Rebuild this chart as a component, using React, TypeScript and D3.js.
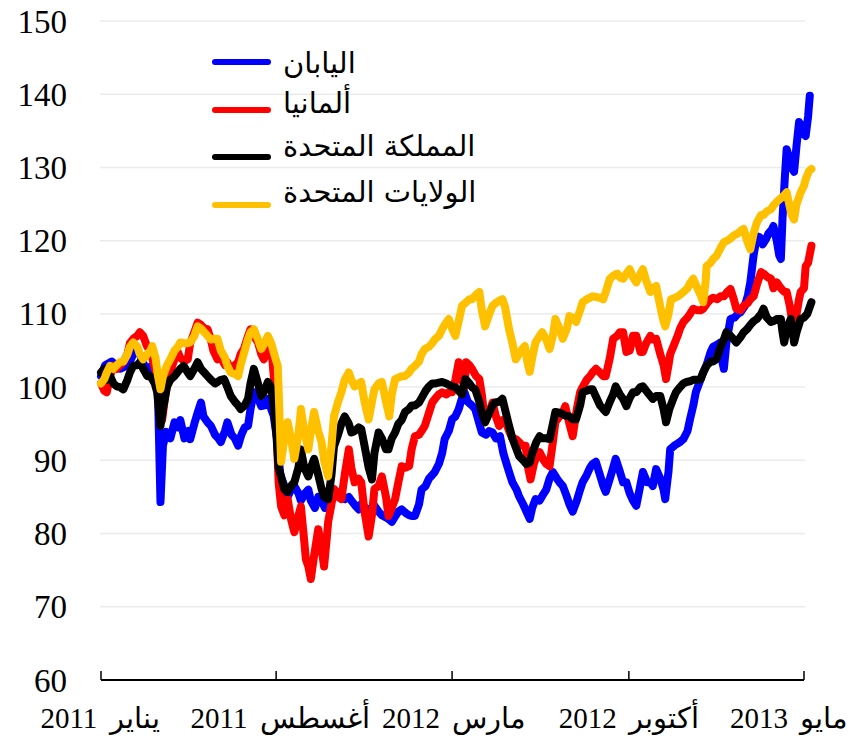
import React from "react";
import * as d3 from "d3";

type Pt = [number, number]; // [months since 1 Jan 2011, index value]

const japan: Pt[] = [
[0,101.5],[0.16,103],[0.44,103.5],[0.76,102.5],[1.08,103],[1.36,105],[1.56,104.5],[1.76,102.5],[1.96,102.8],[2.16,101],[2.28,99],[2.36,84.3],[2.48,92],[2.6,93.9],[2.76,93],[2.92,95.2],[3.04,94.5],[3.16,95.5],[3.32,93],[3.48,94],[3.56,92.9],[3.72,95],[3.84,96.5],[3.96,97.9],[4.08,96],[4.24,95.2],[4.36,94.7],[4.52,93.5],[4.68,93],[4.76,92.5],[4.92,94],[5.04,95.2],[5.2,93.5],[5.32,93],[5.44,92],[5.6,93.5],[5.72,94.5],[5.84,94.7],[5.96,97],[6.08,99.3],[6.24,98.5],[6.36,97.4],[6.52,97.5],[6.64,98.4],[6.76,97],[6.88,96.1],[7.0,93],[7.12,88],[7.28,86.5],[7.44,85],[7.56,86],[7.68,86.5],[7.84,85.5],[7.96,84.5],[8.12,85.5],[8.24,86],[8.36,84.5],[8.52,83.5],[8.64,85],[8.76,84.5],[8.92,83.5],[9.04,84],[9.16,85],[9.28,86],[9.44,85.5],[9.56,85],[9.68,84.7],[9.84,85],[9.96,84.5],[10.12,83.8],[10.24,83.3],[10.36,84],[10.52,83.5],[10.64,83.2],[10.76,83.5],[10.88,83.8],[11.04,83],[11.16,82.5],[11.32,82.2],[11.44,82],[11.56,81.6],[11.72,82.5],[11.84,83],[11.96,83.3],[12.12,82.8],[12.24,82.5],[12.36,82.4],[12.48,82.4],[12.64,84],[12.76,86],[12.92,86.5],[13.04,87.5],[13.16,88],[13.28,88.4],[13.44,89.5],[13.56,91],[13.68,92.9],[13.84,94],[13.96,95.6],[14.08,96],[14.24,97],[14.36,98.5],[14.44,99.3],[14.6,98],[14.76,97.5],[14.88,97],[15.04,95],[15.16,93.8],[15.32,93.5],[15.44,94],[15.56,93.8],[15.72,93],[15.88,93.3],[16.0,91],[16.12,89.5],[16.24,88.4],[16.36,87],[16.52,86],[16.64,85.1],[16.8,84],[16.92,83],[17.04,82],[17.16,83.5],[17.28,84.7],[17.44,84.5],[17.56,85.1],[17.72,86],[17.84,87.5],[17.96,88.4],[18.12,87.5],[18.24,87],[18.36,86.5],[18.52,85],[18.64,84],[18.76,83],[18.92,84.5],[19.04,86],[19.16,87],[19.32,88],[19.44,89],[19.56,89.5],[19.68,89.8],[19.84,88],[19.96,86.5],[20.08,85.7],[20.24,87.5],[20.36,89],[20.48,90.2],[20.64,88.5],[20.76,87],[20.88,87],[21.04,85.5],[21.16,84.5],[21.28,83.8],[21.4,85.5],[21.56,88.4],[21.72,87],[21.84,87],[21.96,86.5],[22.08,88.8],[22.24,87.5],[22.36,86],[22.44,84.7],[22.56,88.5],[22.64,91.5],[22.8,92],[22.92,92.3],[23.04,92.5],[23.16,92.9],[23.32,94],[23.44,95.6],[23.56,97.5],[23.64,99.3],[23.8,100.5],[23.96,102],[24.08,103],[24.24,104.8],[24.36,105.5],[24.52,105.8],[24.64,106.1],[24.72,103.5],[24.76,102.5],[24.88,106],[25.04,109.3],[25.2,109.5],[25.32,110],[25.44,110.2],[25.6,111],[25.72,112.5],[25.84,114.3],[25.96,118],[26.08,120.6],[26.2,120.5],[26.32,119.5],[26.44,120.2],[26.56,121],[26.68,121.5],[26.76,122],[26.88,120],[26.96,118],[27.04,117.5],[27.12,123],[27.2,129],[27.28,132.5],[27.4,131],[27.48,130],[27.56,129.4],[27.68,133],[27.76,136.2],[27.88,135.5],[27.96,134.5],[28.04,134.3],[28.12,137],[28.2,139.8]
];

const germany: Pt[] = [
[0,100.5],[0.12,99.5],[0.24,99.3],[0.36,101.5],[0.48,102.9],[0.64,102.5],[0.76,103],[0.88,103.4],[1.04,104.5],[1.16,106],[1.28,106.6],[1.44,107],[1.56,107.5],[1.68,107],[1.84,105.5],[1.96,105.2],[2.08,103.5],[2.24,101.5],[2.36,97.5],[2.44,95.5],[2.56,99],[2.68,101.5],[2.8,102.5],[2.92,103.8],[3.04,104.8],[3.16,104],[3.32,103.5],[3.44,103.8],[3.56,106],[3.72,107.5],[3.84,108.8],[3.96,108.5],[4.12,108],[4.24,107.9],[4.36,106.5],[4.48,105],[4.64,103.8],[4.76,104],[4.92,103],[5.04,103.4],[5.16,102.5],[5.32,103],[5.44,103.4],[5.56,104.5],[5.68,105.2],[5.84,107],[5.96,107.9],[6.08,107],[6.24,106.1],[6.36,104.5],[6.48,103.8],[6.64,105],[6.76,105.6],[6.84,103],[6.92,99],[7.0,93],[7.08,87],[7.16,83.7],[7.28,82.5],[7.44,84.7],[7.56,82],[7.68,80.2],[7.84,82.5],[7.96,83.7],[8.08,79],[8.16,76.5],[8.24,75.5],[8.36,73.8],[8.48,77],[8.64,80.6],[8.76,78],[8.88,75.5],[8.96,79],[9.04,81.6],[9.16,84],[9.28,86.1],[9.44,85],[9.56,84.7],[9.68,88],[9.84,91.5],[9.96,89],[10.08,87],[10.24,87.5],[10.36,87],[10.48,83],[10.64,79.6],[10.76,82.5],[10.88,86.1],[11.04,86.5],[11.16,87.8],[11.32,85],[11.44,82.4],[11.56,83.5],[11.68,84.7],[11.84,87],[11.96,89.2],[12.12,89],[12.24,89.2],[12.36,91.5],[12.48,93.3],[12.64,93.5],[12.76,94],[12.88,94.7],[13.04,96.5],[13.16,97.9],[13.32,98.5],[13.44,99],[13.56,99.3],[13.72,99],[13.84,99.3],[13.96,99.3],[14.08,101],[14.24,103.4],[14.36,101],[14.44,100],[14.52,103.4],[14.64,103],[14.76,102.5],[14.92,101.5],[15.04,101.1],[15.16,99],[15.28,95.2],[15.44,96.5],[15.56,97.9],[15.72,96],[15.84,94.7],[15.96,95.5],[16.08,95.6],[16.24,94],[16.36,93],[16.48,92.9],[16.64,92.5],[16.76,92],[16.88,92],[17.0,89],[17.08,87.4],[17.2,89.5],[17.32,90.5],[17.44,91.1],[17.6,90],[17.72,89.5],[17.84,89.2],[17.96,92.5],[18.08,95.2],[18.24,96],[18.36,96.5],[18.48,97.4],[18.64,95],[18.76,93.3],[18.92,97],[19.04,99.3],[19.16,100],[19.32,101],[19.44,101.5],[19.56,102],[19.68,102.5],[19.84,102],[19.96,101.5],[20.08,101.5],[20.24,104],[20.36,106.6],[20.52,107],[20.64,107.5],[20.76,107.5],[20.88,104.8],[21.04,105],[21.16,107],[21.28,107],[21.44,104.8],[21.56,104.8],[21.68,106],[21.84,107],[21.96,106.5],[22.08,106.6],[22.24,104.5],[22.36,103],[22.48,101.1],[22.56,103],[22.64,104.5],[22.76,105.6],[22.92,107],[23.04,108],[23.16,108.9],[23.32,109.5],[23.44,110],[23.56,110.7],[23.72,110.5],[23.84,110.5],[23.96,110.7],[24.12,111.5],[24.24,112],[24.36,112.2],[24.52,112],[24.64,112.4],[24.76,112.4],[24.92,113],[25.04,113.4],[25.16,112],[25.28,110.7],[25.44,110.5],[25.56,111.1],[25.72,111.5],[25.84,112],[25.96,112.4],[26.08,114],[26.24,115.7],[26.36,115.5],[26.52,115],[26.64,114.8],[26.76,113.5],[26.88,114.3],[27.04,113.5],[27.16,113],[27.28,113],[27.4,111],[27.48,109.5],[27.56,108.3],[27.68,110],[27.76,112],[27.84,113],[27.96,113.5],[28.04,116.5],[28.12,117],[28.24,119.3]
];

const uk: Pt[] = [
[0,102],[0.12,102.5],[0.24,101],[0.36,101.5],[0.48,100.5],[0.64,100.1],[0.76,100],[0.88,99.7],[1.04,101],[1.16,102],[1.28,102.9],[1.44,103],[1.56,103.4],[1.68,102.5],[1.84,101.5],[1.96,101.5],[2.12,100.5],[2.24,99.3],[2.36,94.7],[2.48,97],[2.64,100.1],[2.76,101],[2.92,101.5],[3.04,102.1],[3.16,102.5],[3.28,102.9],[3.44,102],[3.56,101.5],[3.72,102.5],[3.84,103.4],[3.96,102.5],[4.12,102],[4.24,101.5],[4.36,101],[4.52,100.5],[4.64,100.7],[4.76,101],[4.88,101.1],[5.04,100],[5.16,98.8],[5.32,98],[5.44,97.5],[5.56,97],[5.72,97.5],[5.84,98.4],[5.96,100.5],[6.08,102.5],[6.24,100.5],[6.36,98.8],[6.52,99.5],[6.64,100.7],[6.76,100],[6.84,98.4],[6.96,94],[7.08,89],[7.16,87.8],[7.28,86],[7.44,85.7],[7.56,86.5],[7.68,87],[7.84,89],[7.96,91.5],[8.08,89],[8.24,87.8],[8.36,89],[8.48,90.2],[8.64,88],[8.76,86.1],[8.88,85],[9.04,84.7],[9.16,88],[9.28,91.9],[9.44,93.5],[9.56,95],[9.68,96],[9.84,95],[9.96,93.8],[10.08,94],[10.24,94.5],[10.36,94.3],[10.48,92],[10.64,89],[10.76,87.4],[10.88,91],[11.04,93.8],[11.16,93],[11.32,91.5],[11.44,91.5],[11.56,93],[11.68,93.8],[11.84,95],[11.96,95.5],[12.08,96.6],[12.24,97],[12.36,97.5],[12.48,97.5],[12.64,97.9],[12.76,98.5],[12.92,99.5],[13.04,100.1],[13.16,100.5],[13.32,100.5],[13.44,100.6],[13.56,100.7],[13.72,100.5],[13.84,100.3],[13.96,100.1],[14.08,100],[14.24,99.5],[14.36,99],[14.48,101.1],[14.64,100.5],[14.76,100],[14.88,99.7],[15.04,98],[15.16,96.5],[15.28,95.2],[15.44,96.5],[15.56,97.5],[15.68,97.9],[15.84,98],[15.96,98.4],[16.08,97],[16.24,94.7],[16.36,93],[16.52,91.5],[16.64,90.6],[16.8,90],[16.92,89.5],[17.04,89.7],[17.16,91],[17.32,92.5],[17.44,93.3],[17.56,93],[17.72,93],[17.84,92.9],[17.96,95],[18.08,96.6],[18.24,96.5],[18.36,96.3],[18.48,96.1],[18.64,96],[18.76,95.6],[18.88,95.6],[19.04,97.5],[19.16,99.3],[19.32,99.5],[19.44,99.7],[19.56,99.7],[19.72,98.5],[19.84,97.5],[19.96,97],[20.08,96.6],[20.24,98],[20.36,99],[20.48,100.1],[20.64,99],[20.76,98.4],[20.88,97.4],[21.04,98.5],[21.16,99.3],[21.28,99.3],[21.44,100],[21.56,100.1],[21.68,99.5],[21.84,98.8],[21.96,98.4],[22.08,98.8],[22.24,98.8],[22.36,97],[22.48,95.2],[22.6,97],[22.76,98.5],[22.88,99.3],[23.04,100],[23.16,100.5],[23.28,100.7],[23.44,100.8],[23.56,101],[23.72,101],[23.84,101.1],[23.96,102],[24.08,102.9],[24.24,103.5],[24.36,103.5],[24.48,103.8],[24.64,105.5],[24.76,106.5],[24.88,107.5],[25.04,107],[25.16,106.5],[25.28,106.1],[25.44,106.8],[25.56,107.5],[25.68,107.9],[25.84,108.5],[25.96,109],[26.08,109.3],[26.24,110],[26.36,110.7],[26.48,109.5],[26.64,108.9],[26.76,109],[26.88,109.3],[27.04,109.3],[27.12,107.5],[27.16,106.1],[27.28,108],[27.44,109.3],[27.52,107],[27.56,106.1],[27.68,107.5],[27.84,109.3],[27.96,109.5],[28.08,110],[28.24,111.6]
];

const us: Pt[] = [
[0,100.5],[0.12,101.1],[0.24,102],[0.36,102.9],[0.48,102.5],[0.64,103],[0.76,103.4],[0.88,103.5],[1.04,104.5],[1.16,105.5],[1.28,106.1],[1.44,105.5],[1.56,104.5],[1.68,103.8],[1.84,104.5],[1.96,105],[2.04,105.6],[2.16,104],[2.28,101.5],[2.36,99.7],[2.48,101.5],[2.64,103],[2.76,103.8],[2.92,105],[3.04,105.5],[3.16,106.1],[3.32,106],[3.44,106],[3.56,106.1],[3.72,107],[3.84,108.3],[3.96,108],[4.12,107.5],[4.24,107],[4.36,106.5],[4.52,106.6],[4.64,106.6],[4.76,105],[4.92,104],[5.04,102.9],[5.16,102],[5.32,101.8],[5.44,101.5],[5.56,103],[5.72,105],[5.84,106.6],[5.96,107.5],[6.08,107.9],[6.24,106.5],[6.36,105.2],[6.52,106],[6.64,107],[6.76,106],[6.92,104],[7.04,102.9],[7.16,89.8],[7.28,93],[7.44,95.2],[7.56,93],[7.68,90.2],[7.84,93.5],[7.96,97],[8.08,94],[8.24,91.5],[8.36,94],[8.48,96.6],[8.64,94],[8.76,92.5],[8.88,90],[9.04,87.8],[9.16,92],[9.28,96],[9.44,98],[9.56,99.3],[9.68,101],[9.84,102],[9.96,101],[10.08,100.1],[10.24,100.5],[10.36,100.7],[10.48,98],[10.64,95.6],[10.76,98],[10.88,99.7],[11.04,100.5],[11.16,100.7],[11.32,98],[11.48,96],[11.56,99],[11.68,101.1],[11.84,101.3],[11.96,101.5],[12.08,101.5],[12.24,102],[12.36,102.5],[12.48,102.9],[12.64,103.5],[12.76,104.5],[12.88,105.2],[13.04,105.5],[13.16,106],[13.28,106.5],[13.44,107],[13.56,107.9],[13.68,108.5],[13.84,109.3],[13.96,108],[14.08,107],[14.24,109],[14.36,111.1],[14.48,111.5],[14.64,112],[14.76,112],[14.88,112.5],[15.04,113],[15.16,110.5],[15.28,108.3],[15.44,110],[15.56,111.1],[15.72,111.5],[15.84,111.8],[15.96,112],[16.08,111],[16.24,107.9],[16.36,106],[16.48,103.8],[16.64,104.5],[16.76,105.2],[16.84,105.6],[16.96,103.5],[17.04,102.1],[17.16,104],[17.28,106.1],[17.44,107],[17.56,107.5],[17.72,106.5],[17.84,105.2],[17.96,107],[18.08,109.3],[18.24,108],[18.36,106.6],[18.52,108],[18.64,109.7],[18.76,109.5],[18.88,108.9],[19.04,110.5],[19.16,111.6],[19.32,112],[19.44,112.2],[19.56,112.4],[19.72,112.3],[19.84,112.2],[19.96,112],[20.08,113],[20.24,114.8],[20.36,115.2],[20.52,115.5],[20.64,115],[20.76,114.8],[20.88,115.5],[21.04,116.1],[21.16,115],[21.28,114.3],[21.44,115.5],[21.56,116.1],[21.68,114.5],[21.84,113],[21.96,113.5],[22.08,113.8],[22.24,111],[22.36,109],[22.44,108.3],[22.56,110],[22.68,112],[22.84,112.2],[23.0,112.5],[23.16,113],[23.32,113.5],[23.44,114.2],[23.56,114.8],[23.72,113.5],[23.84,112.5],[23.96,111.6],[24.04,114.5],[24.08,116.5],[24.24,117],[24.36,117.5],[24.48,117.9],[24.64,119],[24.76,119.8],[24.92,120],[25.04,120.3],[25.16,120.7],[25.32,121],[25.44,121.3],[25.56,121.6],[25.68,120],[25.84,118.8],[25.96,121],[26.08,122.5],[26.24,123.5],[26.36,123.5],[26.48,124],[26.64,124.3],[26.76,124.8],[26.88,125.3],[27.04,125.8],[27.16,126.2],[27.28,126.6],[27.4,124.5],[27.48,123.5],[27.56,122.9],[27.68,125],[27.84,126.6],[27.96,127.5],[28.04,128.4],[28.16,129.5],[28.24,129.8]
];

const seriesNames = ["اليابان", "ألمانيا", "المملكة المتحدة", "الولايات المتحدة"];
const seriesColors = ["#0000FF", "#FF0000", "#000000", "#FFC000"];
const seriesData = [japan, germany, uk, us];

const yTicks = [60, 70, 80, 90, 100, 110, 120, 130, 140, 150];
const xTickDates = ["2011-01-01", "2011-08-01", "2012-03-01", "2012-10-01", "2013-05-01"];
const xTickLabels = ["يناير 2011", "أغسطس 2011", "مارس 2012", "أكتوبر 2012", "مايو 2013"];

const W = 865, H = 738;
const START = new Date(2011, 0, 1);
const monthToDate = (m: number) => d3.timeDay.offset(START, Math.round(m * 30.437));
const parse = d3.timeParse("%Y-%m-%d");
const labelShift = [-1, 4, 2, 0, -15];

export default function App() {
  const x = d3.scaleTime().domain([START, new Date(2013, 4, 1)]).range([101, 804]);
  const y = d3.scaleLinear().domain([60, 150]).range([680, 21]);
  const line = d3.line<Pt>().x(d => x(monthToDate(d[0]))).y(d => y(d[1]));
  return (
    <svg width={W} height={H} style={{ position: "absolute", left: 0, top: 0, background: "#fff" }}>
      {yTicks.filter(t => t > 60).map(t => (
        <line key={"g" + t} x1={100} x2={805} y1={y(t)} y2={y(t)} stroke="#ebebeb" strokeWidth={1.5} />
      ))}
      {yTicks.map(t => (
        <text key={"yt" + t} x={67} y={y(t)} dy="0.35em" textAnchor="end" fontFamily="Liberation Serif" fontSize={33} fill="#000">{t}</text>
      ))}
      <line x1={x(parse(xTickDates[0])!)} x2={x(parse(xTickDates[4])!)} y1={y(60)} y2={y(60)} stroke="#000" strokeWidth={2} />
      {xTickDates.map((d, i) => (
        <line key={"xt" + i} x1={x(parse(d)!)} x2={x(parse(d)!)} y1={y(60)} y2={y(60) - 9} stroke="#000" strokeWidth={1.5} />
      ))}
      {xTickDates.map((d, i) => (
        <text key={"xl" + i} x={x(parse(d)!) + labelShift[i]} y={728} textAnchor="middle" fontFamily="Liberation Serif" fontSize={29} wordSpacing={5} fill="#000">{xTickLabels[i]}</text>
      ))}
      {seriesData.map((s, i) => (
        <path key={"s" + i} d={line(s) || ""} fill="none" stroke={seriesColors[i]} strokeWidth={8} strokeLinejoin="round" strokeLinecap="round" />
      ))}
      {seriesNames.map((n, i) => {
        const ly = [62, 110, 157, 205][i];
        const ty = [73, 113, 156, 202][i];
        return (
          <g key={"lg" + i}>
            <line x1={215} x2={268} y1={ly} y2={ly} stroke={seriesColors[i]} strokeWidth={6} strokeLinecap="round" />
            <text x={283} y={ty} fontFamily="DejaVu Sans" fontSize={29} fill="#000">{n}</text>
          </g>
        );
      })}
    </svg>
  );
}
